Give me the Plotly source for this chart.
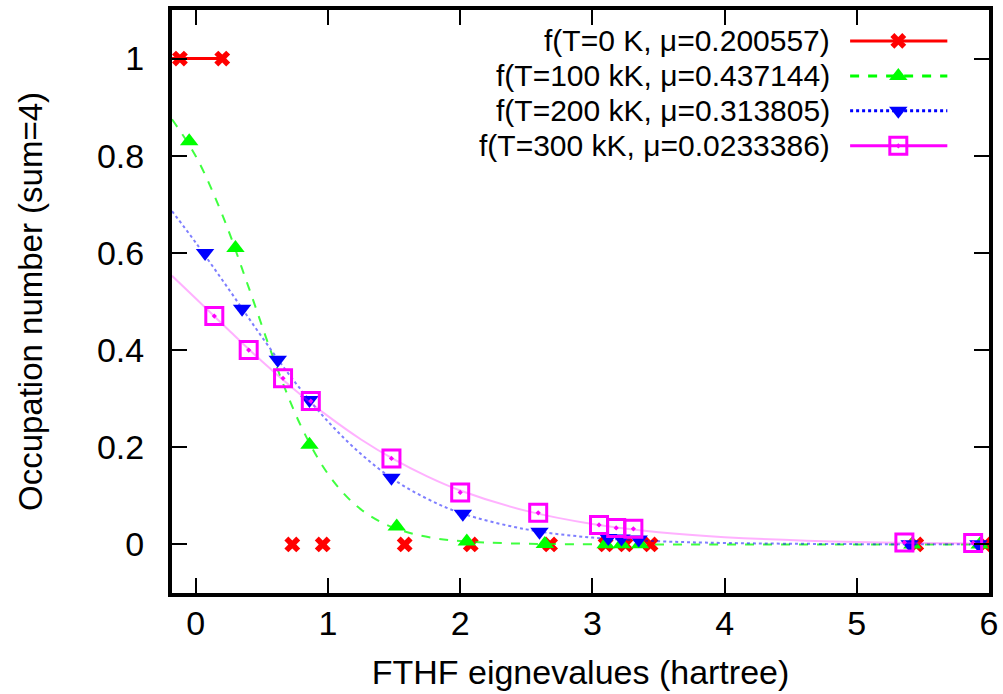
import plotly.graph_objects as go

# ---- data ----
x_T0 = [-0.12, 0.20, 0.73, 0.96, 1.58, 2.08, 2.68, 3.10, 3.25, 3.44, 5.45, 5.97]
f_T0 = [1, 1, 0, 0, 0, 0, 0, 0, 0, 0, 0, 0]

x_T100 = [-0.05, 0.30, 0.86, 1.52, 2.05, 2.64, 3.10, 3.22, 3.36, 5.42, 5.93]
f_T100 = [0.83, 0.61, 0.205, 0.037, 0.006, 0.001, 0.0003, 0.0002, 0.0002, 0.0, 0.0]

x_T200 = [0.07, 0.35, 0.62, 0.86, 1.48, 2.02, 2.60, 3.12, 3.22, 3.35, 5.40, 5.92]
f_T200 = [0.60, 0.485, 0.38, 0.297, 0.137, 0.063, 0.026, 0.013, 0.012, 0.010, 0.0006, 0.0003]

x_T300 = [0.14, 0.40, 0.66, 0.87, 1.48, 2.00, 2.59, 3.05, 3.18, 3.31, 5.36, 5.88]
f_T300 = [0.47, 0.40, 0.342, 0.295, 0.177, 0.107, 0.065, 0.040, 0.034, 0.032, 0.004, 0.003]

# smooth curves
curve_x_T0 = [-0.18, 0.20]
curve_f_T0 = [1.0, 1.0]

curve_x_T100 = [-0.18, 0.0, 0.2, 0.4, 0.6, 0.8, 1.0, 1.2, 1.4, 1.6, 1.8, 2.0, 2.4, 3.0, 4.0, 5.0, 6.0]
curve_f_T100 = [0.875, 0.799, 0.679, 0.529, 0.374, 0.241, 0.145, 0.083, 0.046, 0.025, 0.013, 0.007, 0.002, 0.0003, 0.0, 0.0, 0.0]

curve_x_T200 = [-0.18, 0.0, 0.25, 0.5, 0.75, 1.0, 1.25, 1.5, 1.75, 2.0, 2.5, 3.0, 3.5, 4.0, 5.0, 6.0]
curve_f_T200 = [0.686, 0.621, 0.525, 0.427, 0.334, 0.253, 0.186, 0.133, 0.094, 0.065, 0.031, 0.014, 0.0065, 0.003, 0.0006, 0.0001]

curve_x_T300 = [-0.18, 0.0, 0.25, 0.5, 0.75, 1.0, 1.25, 1.5, 1.75, 2.0, 2.5, 3.0, 3.5, 4.0, 5.0, 6.0]
curve_f_T300 = [0.553, 0.506, 0.441, 0.377, 0.318, 0.264, 0.216, 0.175, 0.140, 0.111, 0.069, 0.042, 0.025, 0.015, 0.005, 0.002]

labels = ["f(T=0 K, μ=0.200557)", "f(T=100 kK, μ=0.437144)",
          "f(T=200 kK, μ=0.313805)", "f(T=300 kK, μ=0.0233386)"]
x_ticks = [0, 1, 2, 3, 4, 5, 6]
y_ticks = [0, 0.2, 0.4, 0.6, 0.8, 1]
y_ticktext = ["0", "0.2", "0.4", "0.6", "0.8", "1"]

FONT = "Liberation Sans, Arial, sans-serif"
FS = 34
KEY_FS = 30

series = [
    dict(cx=curve_x_T0, cf=curve_f_T0, x=x_T0, f=f_T0, color="#ff0000",
         dash="solid", cw=3, cop=1.0, sym="x", size=14, mlw=0, lw=3),
    dict(cx=curve_x_T100, cf=curve_f_T100, x=x_T100, f=f_T100, color="#00ff00",
         dash="dash", cw=2, cop=0.75, sym="triangle-up", size=16, mlw=0, lw=3),
    dict(cx=curve_x_T200, cf=curve_f_T200, x=x_T200, f=f_T200, color="#0000ff",
         dash="dot", cw=2, cop=0.5, sym="triangle-down", size=16, mlw=0, lw=3),
    dict(cx=curve_x_T300, cf=curve_f_T300, x=x_T300, f=f_T300, color="#ff00ff",
         dash="solid", cw=2, cop=0.3, sym="square-open-dot", size=17, mlw=3, lw=3),
]

fig = go.Figure()
for s in series:
    fig.add_trace(go.Scatter(x=s["cx"], y=s["cf"], mode="lines",
                             line=dict(color=s["color"], width=s["cw"], dash=s["dash"], shape="spline"),
                             opacity=s["cop"], showlegend=False, hoverinfo="skip"))
    fig.add_trace(go.Scatter(x=s["x"], y=s["f"], mode="markers",
                             marker=dict(symbol=s["sym"], size=s["size"], color=s["color"],
                                         line=dict(color=s["color"], width=s["mlw"])),
                             showlegend=False))

# manual gnuplot-style key (text then sample) on an overlay axis
key_rows = [0.947, 0.887, 0.827, 0.767]
key_x0, key_x1, key_xm, key_text = 0.830, 0.949, 0.889, 0.808
for s, lab, yr in zip(series, labels, key_rows):
    fig.add_trace(go.Scatter(x=[key_x0, key_x1], y=[yr, yr], mode="lines",
                             line=dict(color=s["color"], width=s["lw"], dash=s["dash"]),
                             xaxis="x2", yaxis="y2", showlegend=False, hoverinfo="skip"))
    fig.add_trace(go.Scatter(x=[key_xm], y=[yr], mode="markers",
                             marker=dict(symbol=s["sym"], size=s["size"], color=s["color"],
                                         line=dict(color=s["color"], width=s["mlw"])),
                             xaxis="x2", yaxis="y2", showlegend=False, hoverinfo="skip"))
    fig.add_annotation(x=key_text, y=yr, xref="paper", yref="paper", text=lab,
                       showarrow=False, xanchor="right", yanchor="middle",
                       font=dict(family=FONT, size=KEY_FS, color="black"))

axis_common = dict(showline=True, linecolor="black", linewidth=4, mirror="ticks",
                   ticks="inside", ticklen=15, tickwidth=2, tickcolor="black",
                   showgrid=False, zeroline=False, automargin=False,
                   tickfont=dict(family=FONT, size=FS, color="black"))

fig.update_layout(
    width=1003, height=694,
    margin=dict(l=172, r=14, t=10, b=101),
    paper_bgcolor="white", plot_bgcolor="white",
    font=dict(family=FONT, size=FS, color="black"),
    xaxis=dict(range=[-0.18, 6], tickvals=x_ticks,
               title=dict(text="FTHF eignevalues (hartree)", standoff=20,
                          font=dict(family=FONT, size=FS, color="black")),
               ticklabelstandoff=-3, **axis_common),
    yaxis=dict(range=[-0.1, 1.1], tickvals=y_ticks, ticktext=y_ticktext,
               title=dict(text="Occupation number (sum=4)", standoff=45,
                          font=dict(family=FONT, size=33, color="black")),
               ticklabelstandoff=17, **axis_common),
    xaxis2=dict(range=[0, 1], overlaying="x", visible=False, fixedrange=True),
    yaxis2=dict(range=[0, 1], overlaying="y", visible=False, fixedrange=True),
)

fig.write_html("out.html")
